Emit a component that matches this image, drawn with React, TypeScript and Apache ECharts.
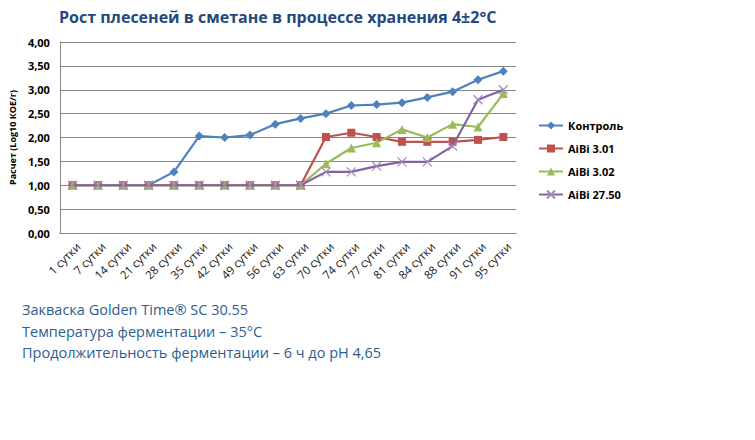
import React, { useEffect, useRef } from "react";
import * as echarts from "echarts";

const categories = [
  "1 сутки", "7 сутки", "14 сутки", "21 сутки", "28 сутки", "35 сутки",
  "42 сутки", "49 сутки", "56 сутки", "63 сутки", "70 сутки", "74 сутки",
  "77 сутки", "81 сутки", "84 сутки", "88 сутки", "91 сутки", "95 сутки",
];

const control = [1.0, 1.0, 1.0, 1.0, 1.28, 2.03, 2.0, 2.05, 2.28, 2.4, 2.5, 2.67, 2.69, 2.73, 2.84, 2.96, 3.21, 3.39];
const aibi301 = [1.0, 1.0, 1.0, 1.0, 1.0, 1.0, 1.0, 1.0, 1.0, 1.0, 2.01, 2.1, 2.01, 1.91, 1.91, 1.91, 1.95, 2.01];
const aibi302 = [1.0, 1.0, 1.0, 1.0, 1.0, 1.0, 1.0, 1.0, 1.0, 1.0, 1.45, 1.78, 1.89, 2.17, 2.0, 2.28, 2.22, 2.92];
const aibi2750 = [1.0, 1.0, 1.0, 1.0, 1.0, 1.0, 1.0, 1.0, 1.0, 1.0, 1.28, 1.28, 1.4, 1.49, 1.49, 1.82, 2.79, 3.0];

const seriesNames = ["Контроль", "AiBi 3.01", "AiBi 3.02", "AiBi 27.50"];
const titleText = "Рост плесеней в сметане в процессе хранения 4±2°C";
const yAxisName = "Расчет (Log10 КОЕ/г)";
const notes = [
  "Закваска Golden Time® SC 30.55",
  "Температура ферментации – 35°C",
  "Продолжительность ферментации – 6 ч до pH 4,65",
];

const FONT = "'Open Sans', 'Noto Sans', sans-serif";

export default function App() {
  const ref = useRef<HTMLDivElement>(null);
  useEffect(() => {
    document.body.style.margin = "0";
    if (!ref.current) return;
    const chart = echarts.init(ref.current, undefined, { renderer: "svg" });
    const crossPath = "path://M0,0L10,10M10,0L0,10";
    const mk = (name: string, data: number[], color: string, symbol: string, size: number) => ({
      name,
      type: "line",
      data,
      symbol,
      symbolSize: size,
      lineStyle: { color, width: 2.2 },
      itemStyle: { color },
      z: 3,
    });
    chart.setOption({
      animation: false,
      textStyle: { fontFamily: FONT },
      title: {
        text: titleText,
        left: 54,
        top: 4,
        textStyle: { fontSize: 16, fontWeight: "bold", color: "#1F497D", fontFamily: FONT },
      },
      grid: { left: 57, right: 239, top: 42, bottom: 207, containLabel: false },
      legend: {
        orient: "vertical",
        left: 533,
        top: 115,
        itemGap: 12,
        itemWidth: 24,
        itemHeight: 10,
        textStyle: { fontSize: 11, fontWeight: "bold", color: "#000", fontFamily: FONT },
        data: seriesNames,
      },
      xAxis: {
        type: "category",
        data: categories,
        boundaryGap: true,
        axisTick: { show: false },
        axisLine: { lineStyle: { color: "#868686", width: 1 } },
        axisLabel: {
          rotate: 45,
          interval: 0,
          fontSize: 11.5,
          color: "#1a1a1a",
          margin: 17,
          padding: [0, -8, 0, 0],
          fontFamily: FONT,
        },
      },
      yAxis: {
        type: "value",
        min: 0,
        max: 4,
        interval: 0.5,
        name: yAxisName,
        nameLocation: "middle",
        nameRotate: 90,
        nameGap: 42,
        nameTextStyle: { fontSize: 9, fontWeight: "bold", color: "#000", fontFamily: FONT },
        axisLine: { show: true, lineStyle: { color: "#868686", width: 1 } },
        axisTick: { show: false },
        splitLine: { lineStyle: { color: "#868686", width: 1 } },
        axisLabel: {
          fontSize: 11,
          fontWeight: "bold",
          color: "#000",
          margin: 10,
          fontFamily: FONT,
          formatter: (v: number) => v.toFixed(2).replace(".", ","),
        },
      },
      graphic: notes.map((t, i) => ({
        type: "text",
        left: 22,
        top: 302 + i * 21.5,
        style: { text: t, fontSize: 14.5, fill: "#2C5D91", fontFamily: FONT },
      })),
      series: [
        mk(seriesNames[0], control, "#4F81BD", "diamond", 9),
        mk(seriesNames[1], aibi301, "#C0504D", "rect", 8),
        mk(seriesNames[2], aibi302, "#9BBB59", "triangle", 9),
        {
          name: seriesNames[3],
          type: "line",
          data: aibi2750,
          symbol: crossPath,
          symbolSize: 9,
          lineStyle: { color: "#8064A2", width: 2.2 },
          itemStyle: { color: "#8064A2", borderColor: "#9E8CB8", borderWidth: 1.2 },
          z: 4,
        },
      ],
    });
    return () => chart.dispose();
  }, []);
  return <div ref={ref} style={{ width: 755, height: 440 }} />;
}
